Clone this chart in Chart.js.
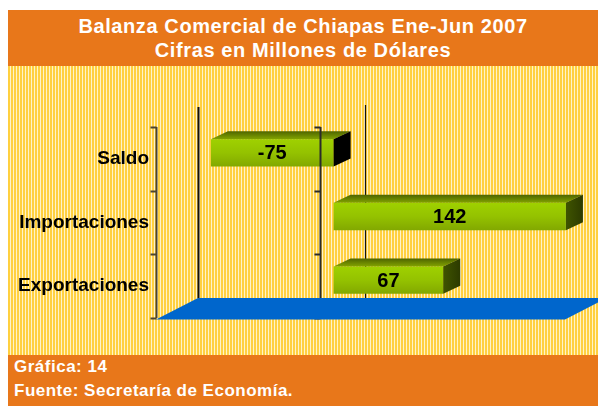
<!DOCTYPE html>
<html><head><meta charset="utf-8">
<script src="https://cdn.jsdelivr.net/npm/chart.js@4.4.0/dist/chart.umd.min.js"></script>
<style>
html,body{margin:0;padding:0;background:#fff;}
#wrap{position:relative;width:598px;height:406px;overflow:hidden;font-family:"Liberation Sans",Arial,sans-serif;}
#head{position:absolute;left:8px;top:10px;width:590px;height:56px;background:#E8771A;color:#fff;font-weight:bold;font-size:20px;letter-spacing:0.6px;line-height:24px;text-align:center;padding-top:4px;box-sizing:border-box;}
#plot{position:absolute;left:8px;top:66px;width:590px;height:289px;background:repeating-linear-gradient(90deg,#FFD040 0px,#FFD040 2px,#FFF3C8 2px,#FFF3C8 3px);}
#foot{position:absolute;left:8px;top:355px;width:590px;height:51px;background:#E8771A;color:#fff;font-weight:bold;font-size:17px;letter-spacing:0.5px;line-height:24px;padding-left:6px;box-sizing:border-box;}
canvas{position:absolute;left:0;top:0;}
</style></head>
<body><div id="wrap">
<div id="head"><div>Balanza Comercial de Chiapas Ene-Jun 2007</div><div>Cifras en Millones de Dólares</div></div>
<div id="plot"></div>
<div id="foot"><div>Gráfica: 14</div><div>Fuente: Secretaría de Economía.</div></div>
<canvas id="c" width="598" height="406"></canvas>
</div>
<script>
const categories = ['Saldo', 'Importaciones', 'Exportaciones'];
const values = [-75, 142, 67];
const valueLabels = ['-75', '142', '67'];
const axisMin = -100;
const axisMax = 150;

// 3D offsets (pixels)
const DX = 17, DY = -8;      // bar depth
const FX = -14, FY = 6;      // front plane relative to bar plane
const BX = 28, BY = -14;     // back wall relative to bar plane

function line(ctx, x1, y1, x2, y2) { ctx.beginPath(); ctx.moveTo(x1, y1); ctx.lineTo(x2, y2); ctx.stroke(); }
function poly(ctx, pts, fill) {
  ctx.beginPath(); ctx.moveTo(pts[0][0], pts[0][1]);
  for (let i = 1; i < pts.length; i++) ctx.lineTo(pts[i][0], pts[i][1]);
  ctx.closePath(); ctx.fillStyle = fill; ctx.fill();
}

const threeD = {
  id: 'threeD',
  beforeDatasetsDraw(chart) {
    const { ctx, chartArea: a, scales: { x } } = chart;
    ctx.save();
    ctx.strokeStyle = '#111'; ctx.lineWidth = 2;
    const xl = Math.round(x.getPixelForValue(axisMin) + BX) + 0.5;
    line(ctx, xl, a.top + BY, xl, a.bottom + BY);
    ctx.lineWidth = 1.2;
    const x0 = Math.round(x.getPixelForValue(0) + BX + 3) + 0.5;
    line(ctx, x0, a.top + BY - 2, x0, a.bottom + BY);
    ctx.restore();
  },
  afterDatasetsDraw(chart) {
    const { ctx, chartArea: a, scales: { x, y } } = chart;
    const meta = chart.getDatasetMeta(0);
    ctx.save();
    meta.data.forEach((el, i) => {
      const p = el.getProps(['x', 'y', 'base', 'height'], true);
      const l = Math.min(p.x, p.base), r = Math.max(p.x, p.base);
      const t = p.y - p.height / 2, b = p.y + p.height / 2;
      let g = ctx.createLinearGradient(0, t + DY, 0, t);
      g.addColorStop(0, '#4E6400'); g.addColorStop(1, '#82A300');
      poly(ctx, [[l, t], [r, t], [r + DX, t + DY], [l + DX, t + DY]], g);
      let side;
      if (values[i] < 0) side = '#000';
      else {
        side = ctx.createLinearGradient(r, 0, r + DX, 0);
        side.addColorStop(0, '#3F5400'); side.addColorStop(1, '#2C3A00');
      }
      poly(ctx, [[r, t], [r + DX, t + DY], [r + DX, b + DY], [r, b]], side);
    });
    // front zero axis with ticks
    const yTop = y.getPixelForValue(-0.5) + FY, yBot = y.getPixelForValue(categories.length - 0.5) + FY;
    const xz = Math.round(x.getPixelForValue(0) + FX) + 0.5;
    ctx.strokeStyle = '#2a2a2a'; ctx.lineWidth = 2;
    line(ctx, xz, yTop, xz, yBot);
    for (let k = 0; k <= categories.length; k++) {
      const yy = Math.round(y.getPixelForValue(k - 0.5) + FY) + 0.5;
      line(ctx, xz - 6, yy, xz, yy);
    }
    // floor
    const fl = x.getPixelForValue(axisMin) + FX, fr = x.getPixelForValue(axisMax) + FX;
    const yf = yBot + 1.5, yb = a.bottom + BY;
    poly(ctx, [[fl, yf], [fr, yf], [fr + (BX - FX), yb], [fl + (BX - FX), yb]], '#0066CC');
    // left category axis
    const xa = Math.round(fl) + 0.5;
    ctx.strokeStyle = '#4a4432'; ctx.lineWidth = 2;
    line(ctx, xa, yTop, xa, yBot);
    for (let k = 0; k <= categories.length; k++) {
      const yy = Math.round(y.getPixelForValue(k - 0.5) + FY) + 0.5;
      line(ctx, xa - 6, yy, xa, yy);
    }
    // value labels
    ctx.fillStyle = '#000';
    ctx.font = 'bold 20px "Liberation Sans", Arial, sans-serif';
    ctx.textAlign = 'center'; ctx.textBaseline = 'middle';
    meta.data.forEach((el, i) => {
      const p = el.getProps(['x', 'y', 'base'], true);
      ctx.fillText(valueLabels[i], (p.x + p.base) / 2, p.y + 1);
    });
    ctx.restore();
  }
};

function frontFill(context) {
  const chart = context.chart;
  const ys = chart.scales.y;
  if (!ys || !chart.chartArea) return '#99CC00';
  const c = ys.getPixelForValue(context.dataIndex);
  const h = (chart.chartArea.bottom - chart.chartArea.top) / categories.length * 0.43 / 2;
  const g = chart.ctx.createLinearGradient(0, c - h, 0, c + h);
  g.addColorStop(0, '#9FD100');
  g.addColorStop(0.5, '#94C200');
  g.addColorStop(1, '#82A800');
  return g;
}

new Chart(document.getElementById('c'), {
  type: 'bar',
  data: {
    labels: categories,
    datasets: [{
      data: values,
      backgroundColor: frontFill,
      borderWidth: 0,
      barPercentage: 0.43,
      categoryPercentage: 1
    }]
  },
  options: {
    indexAxis: 'y',
    responsive: false,
    animation: false,
    devicePixelRatio: 1,
    layout: { padding: { left: 0, right: 19, top: 121, bottom: 94 } },
    plugins: { legend: { display: false }, tooltip: { enabled: false }, title: { display: false } },
    scales: {
      x: { type: 'linear', min: axisMin, max: axisMax, display: false },
      y: {
        type: 'category',
        grid: { display: false, drawTicks: false },
        border: { display: false },
        ticks: {
          color: '#000',
          font: { family: '"Liberation Sans", Arial, sans-serif', size: 19, weight: 'bold' },
          padding: 21,
          labelOffset: 6
        },
        afterFit(scale) { scale.width = 170; }
      }
    }
  },
  plugins: [threeD]
});
</script>
</body></html>
